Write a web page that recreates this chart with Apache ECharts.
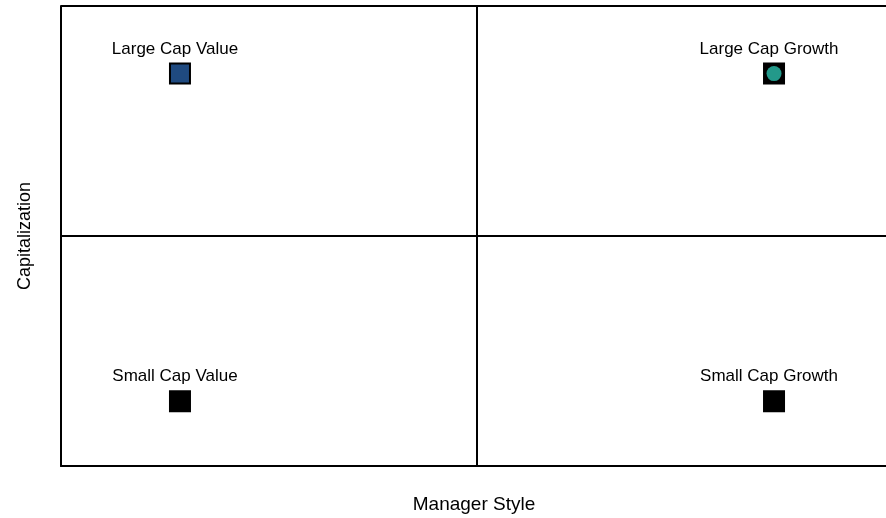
<!DOCTYPE html>
<html>
<head>
<meta charset="utf-8">
<script src="https://cdn.jsdelivr.net/npm/echarts@6/dist/echarts.min.js"></script>
<style>
  html, body { margin: 0; padding: 0; background: #fff; }
  #chart { width: 886px; height: 518px; }
</style>
</head>
<body>
<div id="chart"></div>
<script>
// the four style boxes
const styleNames = ['Large Cap Value', 'Large Cap Growth', 'Small Cap Value', 'Small Cap Growth'];
const managerStyle = [0.143, 0.857, 0.143, 0.857];   // x
const capitalization = [0.853, 0.853, 0.141, 0.141]; // y

const fills = ['#1f4a80', '#000000', '#000000', '#000000'];

const chart = echarts.init(document.getElementById('chart'));

const lineStyle = { color: '#000', width: 2 };

const option = {
  animation: false,
  textStyle: { fontFamily: 'Arial, "Liberation Sans", sans-serif' },
  grid: { left: 61, top: 6, width: 832, height: 460, outerBoundsMode: 'none', containLabel: false },
  xAxis: {
    type: 'value',
    min: 0,
    max: 1,
    interval: 0.5,
    name: 'Manager Style',
    nameLocation: 'middle',
    nameGap: 29,
    nameTextStyle: { fontSize: 19, color: '#000', padding: [0, 6, 0, 0] },
    axisLine: { lineStyle: lineStyle },
    axisTick: { show: false },
    axisLabel: { show: false },
    splitLine: { show: true, lineStyle: lineStyle }
  },
  yAxis: {
    type: 'value',
    min: 0,
    max: 1,
    interval: 0.5,
    name: 'Capitalization',
    nameLocation: 'middle',
    nameGap: 27,
    nameTextStyle: { fontSize: 18, color: '#000' },
    axisLine: { lineStyle: lineStyle },
    axisTick: { show: false },
    axisLabel: { show: false },
    splitLine: { show: true, lineStyle: lineStyle }
  },
  series: [
    {
      type: 'scatter',
      symbol: 'rect',
      symbolSize: 20,
      data: styleNames.map((n, i) => ({
        name: n,
        value: [managerStyle[i], capitalization[i]],
        itemStyle: { color: fills[i], borderColor: '#000', borderWidth: 2, opacity: 1 }
      })),
      label: {
        show: true,
        position: 'top',
        distance: 5,
        offset: [-5, 0],
        fontSize: 17,
        color: '#000',
        formatter: p => p.name
      },
      z: 3
    },
    {
      // teal dot on the growth box
      type: 'scatter',
      symbol: 'circle',
      symbolSize: 15,
      itemStyle: { color: '#23998a', opacity: 1 },
      data: [[managerStyle[1], capitalization[1]]],
      silent: true,
      z: 4
    }
  ]
};

chart.setOption(option);
</script>
</body>
</html>
